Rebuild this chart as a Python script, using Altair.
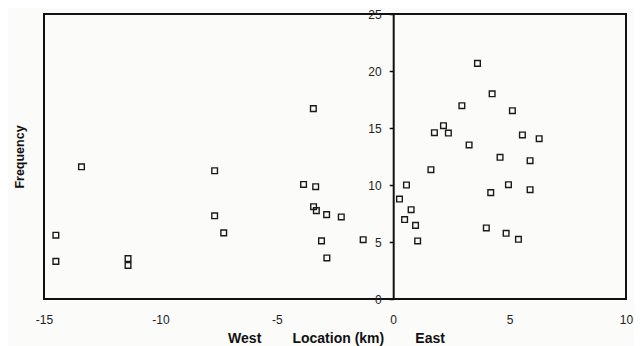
import altair as alt
import pandas as pd

# Location (km) and Frequency
west_km = [-14.49, -14.49, -13.39, -11.39, -11.39, -7.67, -7.67, -7.28, -3.85, -3.33,
           -3.42, -3.30, -3.43, -2.86, -2.23, -3.08, -1.29, -2.85]
west_freq = [5.6, 3.3, 11.6, 3.55, 2.95, 11.25, 7.3, 5.8, 10.05, 9.85,
             8.1, 7.75, 16.7, 7.4, 7.2, 5.1, 5.2, 3.6]
east_km = [0.57, 0.27, 0.77, 0.49, 0.96, 1.05, 1.62, 3.62, 4.25, 2.95, 5.12, 2.16, 1.77,
           2.37, 5.55, 6.27, 3.26, 4.59, 5.88, 4.19, 4.95, 5.88, 4.00, 4.85, 5.38]
east_freq = [10.0, 8.77, 7.83, 6.97, 6.46, 5.09, 11.34, 20.67, 18.0, 16.96, 16.52, 15.2, 14.59,
             14.56, 14.39, 14.06, 13.51, 12.43, 12.13, 9.33, 10.03, 9.59, 6.23, 5.76, 5.24]

x_ticks = [-15, -10, -5, 0, 5, 10]
y_ticks = [0, 5, 10, 15, 20, 25]

df = pd.DataFrame({"km": west_km + east_km, "freq": west_freq + east_freq})

W, H = 582, 285
x_dom = [-15, 10]
zero_px = W * (0 - x_dom[0]) / (x_dom[1] - x_dom[0])

font = "Liberation Sans"
nb = "\u00a0"
x_title = "West" + nb * 8 + "Location (km)" + nb * 8 + "East"

chart = alt.Chart(df).mark_point(
    shape="square", filled=False, size=32, color="#1a1a1a", strokeWidth=1.4, opacity=1
).encode(
    x=alt.X("km:Q",
            scale=alt.Scale(domain=x_dom, nice=False, zero=False),
            axis=alt.Axis(values=x_ticks, grid=False, domain=False, ticks=False,
                          labelPadding=15, labelFlush=False, labelFont=font,
                          labelFontSize=12, labelColor="#222222",
                          labelExpr="'' + datum.value",
                          title=x_title, titleFont=font, titleFontSize=14,
                          titleFontWeight="bold", titleColor="#111111",
                          titleY=32, titleX=292)),
    y=alt.Y("freq:Q",
            scale=alt.Scale(domain=[0, 25], nice=False),
            axis=alt.Axis(values=y_ticks, grid=False, offset=-zero_px,
                          domainColor="#111111", domainWidth=2,
                          tickColor="#111111", tickSize=4, tickWidth=1.5,
                          labelPadding=8, labelFont=font, labelFontSize=12,
                          labelColor="#222222",
                          title="Frequency", titleFont=font, titleFontSize=12.5,
                          titleFontWeight="bold", titleColor="#111111",
                          titleAngle=270, titleBaseline="middle", titleAlign="center",
                          titleX=-24.5 - zero_px, titleY=H / 2)),
).properties(
    width=W, height=H,
    autosize=alt.AutoSizeParams(type="none"),
    padding={"left": 36, "top": 6, "right": 8, "bottom": 52},
    background="#fbfbf9",
).configure_view(
    stroke="#111111", strokeWidth=2
)

chart.save("out.html", embed_options={"renderer": "svg", "actions": False})
